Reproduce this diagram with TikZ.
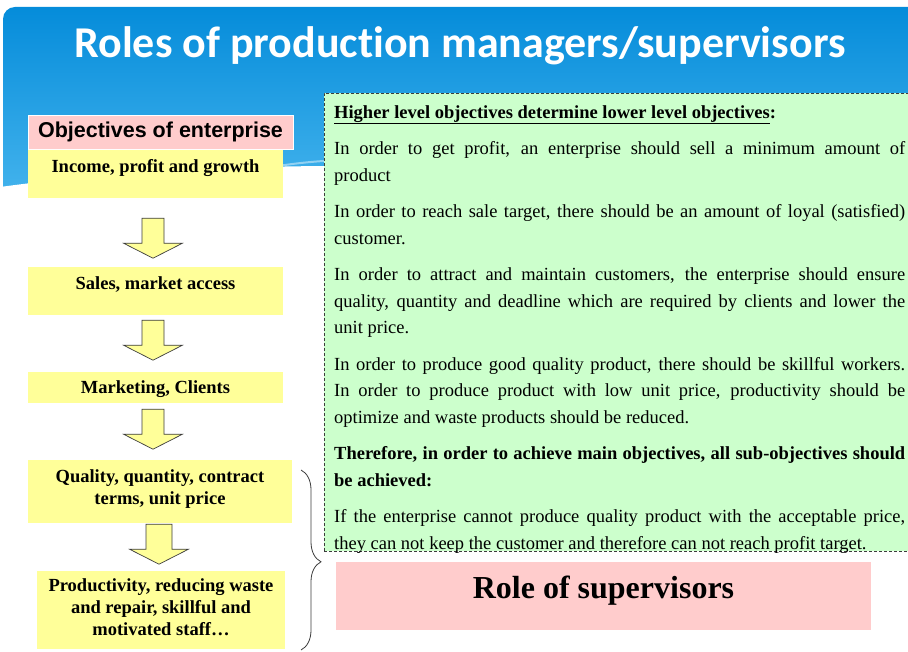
\documentclass[tikz,border=0pt]{standalone}
\usepackage{fontspec}
\setmainfont{Liberation Serif}
\newfontfamily\titlefont[Ligatures=NoCommon]{Carlito}
\newfontfamily\boxfont{Liberation Sans}
\usetikzlibrary{positioning, calc, decorations.pathreplacing}
\definecolor{hdtop}{RGB}{5,140,218}
\definecolor{hdbot}{RGB}{72,182,238}
\definecolor{pinkbox}{RGB}{255,204,204}
\definecolor{yellowbox}{RGB}{255,255,153}
\definecolor{greenbox}{RGB}{204,255,204}
\definecolor{edge}{RGB}{60,60,60}

\tikzset{
  ybox/.style={fill=yellowbox, inner sep=0pt},
  ytext/.style={inner sep=0pt, align=center, font=\fontsize{18.5}{22}\selectfont\bfseries},
  blockarrow/.style={fill=yellowbox, draw=edge, line width=0.7pt, line join=miter},
  notebox/.style={fill=greenbox, draw=edge, dash pattern=on 3pt off 2pt, line width=0.7pt, inner sep=0pt},
}

\begin{document}
\begin{tikzpicture}[x=1pt,y=-1pt]
    \useasboundingbox (0,0) rectangle (908,652);
    % header band and wave
    \shade[top color=hdtop, bottom color=hdbot, rounded corners=12pt] (3,7) rectangle (930,210);
    \fill[white] (0,187) .. controls (110,172) and (230,166) .. (340,166) -- (340,660) -- (0,660) -- cycle;
    \draw[white, opacity=.45, line width=2pt] (230,176) .. controls (270,166) and (300,162) .. (340,160);
    \node[text=white, font=\titlefont\bfseries\fontsize{44}{44}\selectfont] (title) at (460,46) {Roles of production managers/supervisors};

    % right column
    \node[notebox, minimum width=591pt, minimum height=458pt, anchor=north west] (notes) at (324,93) {};
    \node[anchor=north west, inner sep=0pt, text width=571pt, align=justify,
          font=\fontsize{18.5}{26.5}\selectfont,
          execute at begin node={\setlength{\parskip}{10pt}\hyphenpenalty=10000\tolerance=10000}]
          (notestext) at (334,105) {%
      \textbf{\underline{Higher level objectives determine lower level objectives}:}\par
      In order to get profit, an enterprise should sell a minimum amount of\linebreak product\par
      In order to reach sale target, there should be an amount of loyal (satisfied)\linebreak customer.\par
      In order to attract and maintain customers, the enterprise should ensure\linebreak quality, quantity and deadline which are required by clients and lower the\linebreak unit price.\par
      In order to produce good quality product, there should be skillful workers.\linebreak In order to produce product with low unit price, productivity should be\linebreak optimize and waste products should be reduced.\par
      \textbf{Therefore, in order to achieve main objectives, all sub-objectives should\linebreak be achieved:}\par
      If the enterprise cannot produce quality product with the acceptable price,\linebreak they can not keep the customer and therefore can not reach profit target.};

    % left column
    \node[ybox, minimum width=255pt, minimum height=49pt] (b1) at (155.5,173.5) {};
    \node[ybox, minimum width=255pt, minimum height=48pt] (b2) at (155.5,291) {};
    \node[ybox, minimum width=255pt, minimum height=31pt] (b3) at (155.5,387.5) {};
    \node[ybox, minimum width=264pt, minimum height=63pt] (b4) at (160,491.5) {};
    \node[ybox, minimum width=248pt, minimum height=78pt] (b5) at (161,610) {};
    \node[fill=pinkbox, draw=white, line width=0.8pt, minimum width=265pt, minimum height=34pt, inner sep=0pt,
          font=\boxfont\bfseries\fontsize{21.5}{21.5}\selectfont] (obj) at (160.5,132) {Objectives of enterprise};

    \node[ytext, below=10pt of b1.north] (t1) {Income, profit and growth};
    \node[ytext, below=10pt of b2.north] (t2) {Sales, market access};
    \node[ytext, below=9pt of b3.north] (t3) {Marketing, Clients};
    \node[ytext, below=10pt of b4.north] (t4) {Quality, quantity, contract\\terms, unit price};
    \node[ytext, below=8pt of b5.north] (t5) {Productivity, reducing waste\\and repair, skillful and\\motivated staff…};

    \foreach \a/\dx/\g/\hs in {b1/-2.5/20/11, b2/-2.5/5/11, b3/-2.5/6/11, b4/-1/1/13} {
      \draw[blockarrow] ($(\a.south)+(\dx,\g)$) ++(-\hs,0) -- ++({2*\hs},0) -- ++(0,25)
        -- ++({29.5-\hs},0) -- ++(-29.5,15) -- ++(-29.5,-15) -- ++({29.5-\hs},0) -- cycle;
    }

    % brace and role box
    \coordinate (bracetop) at (301,470);
    \coordinate (bracebot) at (301,650);
    \draw[edge, line width=0.8pt, decorate, decoration={brace, amplitude=20pt, aspect=0.51}] (bracetop) -- (bracebot);

    \node[fill=pinkbox, minimum width=535pt, minimum height=68pt, inner sep=0pt] (role) at (603.5,596) {};
    \node[inner sep=0pt, font=\fontsize{32}{32}\selectfont\bfseries, below=14pt of role.north] (roletext) {Role of supervisors};
\end{tikzpicture}
\end{document}
